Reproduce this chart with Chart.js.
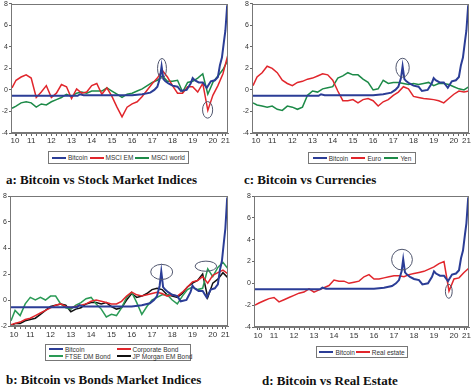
<!DOCTYPE html>
<html lang="en">
<head>
<meta charset="UTF-8">
<title>Bitcoin vs other asset classes</title>
<style>
  body { margin: 0; background: #fff; }
  #wrap { position: relative; width: 474px; height: 388px; overflow: hidden; background: #fff; }
  canvas { position: absolute; }
  .legend { position: absolute; box-sizing: border-box; border: 1px solid #777; font: 6.5px "Liberation Sans", Arial, sans-serif; color: #333;
            display: flex; align-items: center; justify-content: space-around; padding: 0 2px; }
  .legend.grid2 { display: grid; grid-template-columns: auto auto; column-gap: 6px; justify-content: start; align-content: center; padding: 0 3px; }
  .legend .item { display: flex; align-items: center; white-space: nowrap; line-height: 7px; }
  .legend .sw { display: inline-block; width: 14px; height: 2px; margin-right: 2px; }
  .title { position: absolute; font: bold 13px "Liberation Serif", "Times New Roman", serif; color: #111; white-space: nowrap; line-height: 13px; }
</style>
</head>
<body>
<div id="wrap">
  <canvas id="ca" width="237" height="146" style="left:0;top:0"></canvas>
  <canvas id="cc" width="237" height="146" style="left:237px;top:0"></canvas>
  <canvas id="cb" width="237" height="151" style="left:0;top:190px"></canvas>
  <canvas id="cd" width="237" height="152" style="left:237px;top:190px"></canvas>

  <div class="legend" id="la" style="left:48px;top:151px;width:141px;height:13px"></div>
  <div class="legend" id="lc" style="left:308px;top:152px;width:108px;height:12px"></div>
  <div class="legend grid2" id="lb" style="left:45px;top:344px;width:146px;height:17px"></div>
  <div class="legend" id="ld" style="left:316px;top:346px;width:92px;height:12px"></div>

  <div class="title" style="left:6px;top:173px">a: Bitcoin vs Stock Market Indices</div>
  <div class="title" style="left:244px;top:173px">c: Bitcoin vs Currencies</div>
  <div class="title" style="left:6px;top:373px">b: Bitcoin vs Bonds Market Indices</div>
  <div class="title" style="left:262px;top:374px">d: Bitcoin vs Real Estate</div>
</div>

<script src="https://cdn.jsdelivr.net/npm/chart.js"></script>
<script>
  // quarterly observation grid (year, 10 = 2010)
  const years = [10.55, 10.75, 11, 11.25, 11.5, 11.75, 12, 12.25, 12.5, 12.75, 13, 13.25, 13.5, 13.75,
    14, 14.25, 14.5, 14.75, 15, 15.25, 15.5, 15.75, 16, 16.25, 16.5, 16.75, 17, 17.25, 17.5, 17.75,
    18, 18.25, 18.5, 18.75, 19, 19.25, 19.5, 19.75, 20, 20.25, 20.5, 20.75, 21, 21.25];

  // bitcoin is read on its own dates (flat for years, then spikes)
  const btcYears = [10.55, 13.8, 13.92, 14.1, 16.5, 17.0, 17.4, 17.6, 17.75, 17.88, 17.96, 18.05, 18.15, 18.3,
    18.5, 18.75, 18.92, 19.2, 19.4, 19.5, 19.6, 19.8, 20.0, 20.2, 20.4, 20.6, 20.75, 20.85, 20.95, 21.05, 21.12, 21.2, 21.25];
  const bitcoin = [-0.55, -0.55, -0.4, -0.5, -0.5, -0.4, -0.25, 0.0, 0.3, 1.1, 2.2, 1.0, 0.8, 0.6,
    0.4, 0.3, -0.1, 0.0, 0.6, 1.1, 0.9, 0.7, 0.7, 0.2, 0.8, 0.9, 1.2, 2.3, 3.0, 4.5, 5.5, 7.6, 7.4];

  // a: stock indices
  const msciEm = [0.2, 0.9, 1.2, 1.4, 1.1, -0.7, -0.2, 0.4, -0.7, -0.3, 0.5, 0.3, -0.8, 0.1,
    -0.3, -0.2, 0.4, 0.6, -0.4, 0.2, -0.6, -1.6, -2.5, -1.6, -1.3, -1.1, -0.6, 0.0, 0.6, 1.1,
    1.8, 1.2, 0.4, -0.3, -0.3, 0.3, 0.3, -0.2, 0.6, -1.9, -0.5, 0.4, 1.5, 3.3];
  const msciWorld = [-1.7, -1.5, -1.2, -1.1, -1.2, -1.6, -1.3, -1.4, -1.1, -0.9, -0.7, -0.4, -0.6, -0.3,
    -0.2, -0.3, -0.1, -0.1, -0.1, 0.2, -0.1, -0.4, -0.7, -0.4, -0.3, -0.1, 0.1, 0.4, 0.7, 0.9,
    1.3, 0.8, 0.8, 0.9, -0.2, 0.7, 0.8, 1.1, 1.5, -0.4, 0.7, 1.3, 1.9, 2.8];

  // c: currencies
  const euro = [0.4, 1.2, 1.6, 2.2, 2.0, 1.6, 0.9, 0.6, 0.4, 0.7, 0.8, 1.0, 1.1, 1.3,
    1.5, 1.4, 0.9, -0.1, -1.0, -1.0, -0.9, -1.2, -0.9, -0.8, -1.0, -1.5, -1.1, -0.9, -0.5, -0.2,
    0.3, 0.1, -0.6, -0.7, -0.8, -0.85, -0.9, -1.0, -1.2, -0.8, -0.4, -0.1, -0.2, -0.1];
  const yen = [-1.2, -1.4, -1.5, -1.6, -1.5, -1.8, -1.9, -1.5, -1.6, -1.8, -1.6, -0.5, -0.1, -0.2,
    0.1, 0.2, 0.3, 1.1, 1.3, 1.6, 1.4, 1.4, 1.0, 0.7, 0.0, 0.1, 0.9, 0.6, 0.7, 0.7,
    0.6, 0.5, 0.6, 0.5, 0.6, 0.7, 0.4, 0.6, 0.6, 0.5, 0.3, 0.1, 0.0, 0.3];

  // b: bond indices
  const corpBond = [-1.9, -1.8, -1.7, -1.5, -1.4, -1.2, -1.0, -0.8, -0.6, -0.4, -0.3, -0.5, -0.6, -0.5,
    -0.4, -0.3, -0.1, 0.0, -0.1, -0.2, -0.3, -0.3, -0.1, 0.3, 0.6, 0.4, 0.3, 0.4, 0.5, 0.6,
    0.5, 0.3, 0.4, 0.3, 0.6, 1.0, 1.4, 1.5, 1.8, 1.3, 1.9, 2.1, 2.3, 2.0];
  const ftseDm = [-1.6, -0.8, -1.2, -0.3, 0.2, 0.0, 0.2, 0.0, 0.3, 0.3, -0.3, -0.6, -0.7, -0.4,
    -0.2, 0.1, 0.2, -0.3, -0.7, -1.3, -1.1, -1.2, -0.6, 0.2, 0.6, -0.2, -1.1, -0.5, 0.0, 0.2,
    0.4, 0.4, 0.0, -0.3, 0.3, 0.8, 1.0, 0.8, 0.9, 2.4, 1.8, 2.5, 2.9, 2.4];
  const jpmEm = [-2.0, -1.8, -1.8, -1.6, -1.5, -1.4, -1.1, -0.8, -0.5, -0.4, -0.3, -0.4, -0.9, -0.7,
    -0.6, -0.3, -0.2, -0.2, -0.3, -0.2, -0.5, -0.7, -0.6, 0.0, 0.5, 0.2, 0.3, 0.5, 0.8, 0.9,
    0.8, 0.4, 0.3, 0.2, 0.5, 1.0, 1.3, 1.5, 2.0, 0.2, 1.3, 1.6, 2.1, 1.7];

  // d: real estate
  const realEstate = [-2.0, -1.8, -1.6, -1.4, -1.3, -1.7, -1.5, -1.3, -1.1, -0.9, -0.8, -0.5, -0.8, -0.6,
    -0.4, -0.2, 0.3, 0.2, 0.2, 0.0, 0.1, 0.2, 0.6, 0.8, 0.4, 0.4, 0.5, 0.6, 0.7, 0.7,
    0.6, 0.8, 0.9, 1.0, 1.1, 1.3, 1.5, 1.8, 2.0, -0.7, 0.4, 0.5, 1.0, 1.4];

  // year labels sit in the middle of each year
  const xLabelPos = [10.7, 11.5, 12.5, 13.5, 14.5, 15.5, 16.5, 17.5, 18.5, 19.5, 20.5, 21.12];
  const xLabelText = ['10', '11', '12', '13', '14', '15', '16', '17', '18', '19', '20', '21'];

  // highlighted episodes: [year, value, half-width (years), half-height (units)]
  const ringsA = [[17.98, 2.0, 0.22, 0.92], [20.24, -1.85, 0.25, 0.77]];
  const ringsB = [[17.98, 2.16, 0.54, 0.58], [20.16, 2.6, 0.53, 0.39]];
  const ringsC = [[17.96, 2.06, 0.33, 0.88]];
  const ringsD = [[17.9, 2.17, 0.52, 0.95], [20.24, -0.73, 0.17, 0.64]];

  const BLUE = '#2b3d96', RED = '#e1262c', GREEN = '#1d8a48', BLACK = '#111111';

  Chart.defaults.font.family = '"Liberation Sans", Arial, sans-serif';

  // quarter tick marks plus the labelled mid-year ticks
  const xTicks = [];
  for (let q = 10.75; q <= 21.0001; q += 0.25) xTicks.push({ v: q, label: '' });
  xLabelPos.forEach((p, i) => {
    const hit = xTicks.find(t => Math.abs(t.v - p) < 0.01);
    if (hit) hit.label = xLabelText[i]; else xTicks.push({ v: p, label: xLabelText[i] });
  });
  xTicks.sort((a, b) => a.v - b.v);

  function pts(xs, ys) { return xs.map((x, i) => ({ x: x, y: ys[i] })); }

  const framePlugin = {
    id: 'frame',
    afterDraw(chart) {
      const a = chart.chartArea, c = chart.ctx;
      c.save();
      c.strokeStyle = '#777';
      c.lineWidth = 1;
      c.strokeRect(Math.round(a.left) + 0.5, Math.round(a.top) + 0.5, Math.round(a.right - a.left) - 1, Math.round(a.bottom - a.top) - 1);
      c.restore();
    }
  };

  const ringPlugin = {
    id: 'rings',
    afterDatasetsDraw(chart, args, opts) {
      const c = chart.ctx, x = chart.scales.x, y = chart.scales.y;
      c.save();
      c.strokeStyle = '#50566e';
      c.lineWidth = 1;
      (opts.list || []).forEach(r => {
        const cx = x.getPixelForValue(r[0]), cy = y.getPixelForValue(r[1]);
        const rx = Math.abs(x.getPixelForValue(r[0] + r[2]) - cx);
        const ry = Math.abs(y.getPixelForValue(r[1] + r[3]) - cy);
        c.beginPath();
        c.ellipse(cx, cy, rx, ry, 0, 0, Math.PI * 2);
        c.stroke();
      });
      c.restore();
    }
  };

  function fillLegend(chart, id) {
    const box = document.getElementById(id);
    Chart.defaults.plugins.legend.labels.generateLabels(chart).forEach(item => {
      const el = document.createElement('span');
      el.className = 'item';
      const sw = document.createElement('span');
      sw.className = 'sw';
      sw.style.background = item.strokeStyle;
      el.appendChild(sw);
      el.appendChild(document.createTextNode(item.text));
      box.appendChild(el);
    });
  }

  function makePanel(id, sets, yMin, area, ringList, legendId) {
    const canvas = document.getElementById(id);
    const W = canvas.width, H = canvas.height;
    const chart = new Chart(canvas, {
      type: 'line',
      data: {
        datasets: sets.map(s => ({
          label: s.label,
          data: pts(s.x, s.y),
          borderColor: s.color,
          backgroundColor: s.color,
          borderWidth: s.width || 1.5,
          pointRadius: 0,
          tension: 0
        }))
      },
      options: {
        responsive: false,
        animation: false,
        devicePixelRatio: 1,
        layout: { padding: { left: 0, right: W - area.right, top: area.top, bottom: 0 } },
        plugins: { legend: { display: false }, tooltip: { enabled: false }, rings: { list: ringList } },
        scales: {
          x: {
            type: 'linear', min: 10.5, max: 21.25,
            afterFit: s => { s.height = H - area.bottom; },
            afterBuildTicks: s => { s.ticks = xTicks.map(t => ({ value: t.v })); },
            ticks: { autoSkip: false, maxRotation: 0, minRotation: 0, padding: area.xPad,
                     font: { size: 8 }, color: '#333', callback: (v, i) => xTicks[i].label },
            grid: { drawOnChartArea: false, tickLength: 3, color: '#666' },
            border: { color: '#777' }
          },
          y: {
            min: yMin, max: 8,
            afterFit: s => { s.width = area.left; },
            ticks: { stepSize: 2, padding: 1, font: { size: 7, lineHeight: 0.8 }, color: '#333' },
            grid: { drawOnChartArea: false, tickLength: 2, color: '#666' },
            border: { color: '#777' }
          }
        }
      },
      plugins: [framePlugin, ringPlugin]
    });
    fillLegend(chart, legendId);
    return chart;
  }

  const btc = { label: 'Bitcoin', x: btcYears, y: bitcoin, color: BLUE, width: 2 };

  makePanel('ca', [btc,
    { label: 'MSCI EM', x: years, y: msciEm, color: RED },
    { label: 'MSCI world', x: years, y: msciWorld, color: GREEN }],
    -4, { left: 11, right: 228, top: 3, bottom: 133, xPad: 0 }, ringsA, 'la');

  makePanel('cc', [btc,
    { label: 'Euro', x: years, y: euro, color: RED },
    { label: 'Yen', x: years, y: yen, color: GREEN }],
    -4, { left: 15, right: 232, top: 3, bottom: 133, xPad: 0 }, ringsC, 'lc');

  makePanel('cb', [btc,
    { label: 'Corporate Bond', x: years, y: corpBond, color: RED },
    { label: 'FTSE DM Bond', x: years, y: ftseDm, color: '#2a9a55' },
    { label: 'JP Morgan EM Bond', x: years, y: jpmEm, color: BLACK }],
    -2, { left: 10, right: 228, top: 6, bottom: 136, xPad: 1 }, ringsB, 'lb');

  makePanel('cd', [btc,
    { label: 'Real estate', x: years, y: realEstate, color: RED }],
    -4, { left: 17, right: 232, top: 6, bottom: 137, xPad: 1 }, ringsD, 'ld');
</script>
</body>
</html>
